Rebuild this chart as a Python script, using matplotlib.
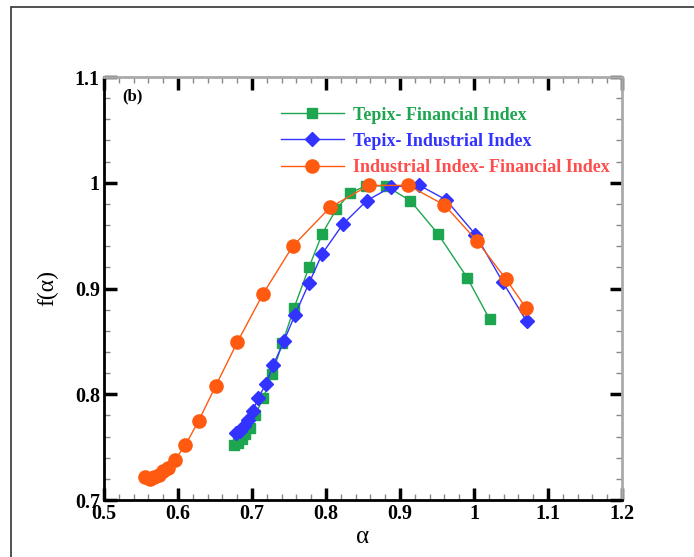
import numpy as np
import matplotlib
import matplotlib.pyplot as plt
from matplotlib.patches import Rectangle

matplotlib.use('Agg')

# Tepix - Financial Index
alpha_tf = [0.676, 0.681, 0.686, 0.691, 0.697, 0.704, 0.715, 0.727, 0.741, 0.757,
            0.777, 0.795, 0.814, 0.833, 0.854, 0.881, 0.914, 0.951, 0.991, 1.021]
f_tf = [0.752, 0.754, 0.758, 0.762, 0.768, 0.780, 0.796, 0.819, 0.848, 0.882,
        0.920, 0.952, 0.975, 0.9906, 0.997, 0.997, 0.983, 0.952, 0.910, 0.871]

# Tepix - Industrial Index
alpha_ti = [0.679, 0.684, 0.689, 0.695, 0.701, 0.708, 0.719, 0.729, 0.743, 0.758,
            0.777, 0.795, 0.823, 0.855, 0.888, 0.925, 0.962, 1.002, 1.039, 1.071]
f_ti = [0.763, 0.765, 0.770, 0.776, 0.784, 0.796, 0.810, 0.828, 0.850, 0.875,
        0.905, 0.933, 0.961, 0.983, 0.996, 0.998, 0.984, 0.951, 0.906, 0.869]

# Industrial Index - Financial Index
alpha_if = [0.556, 0.562, 0.568, 0.574, 0.580, 0.586, 0.596, 0.610, 0.628, 0.651,
            0.680, 0.715, 0.755, 0.806, 0.858, 0.911, 0.960, 1.004, 1.043, 1.070]
f_if = [0.7215, 0.720, 0.7215, 0.724, 0.727, 0.730, 0.738, 0.752, 0.775, 0.808,
        0.849, 0.895, 0.940, 0.977, 0.9975, 0.9975, 0.979, 0.945, 0.909, 0.882]

GREEN = '#1ea550'
BLUE = '#3333ff'
ORANGE = '#ff5a10'

plt.rcParams['font.family'] = ['Liberation Serif', 'DejaVu Serif']
plt.rcParams['font.weight'] = 'bold'

fig = plt.figure(figsize=(6.94, 5.57), dpi=100)
fig.patches.append(Rectangle((11 / 694, -0.1), 1.2, 1.1 - 7 / 557, transform=fig.transFigure,
                             fill=False, edgecolor='#333333', linewidth=1.2))

ax = fig.add_axes([104 / 694, 1 - 500 / 557, 518 / 694, 423 / 557])

ax.plot(alpha_tf, f_tf, '-s', color=GREEN, markersize=7.5, linewidth=1, label='Tepix- Financial Index')
ax.plot(alpha_ti, f_ti, '-D', color=BLUE, markersize=7, linewidth=1, label='Tepix- Industrial Index')
ax.plot(alpha_if, f_if, '-o', color=ORANGE, markersize=9.5, linewidth=1,
        label='Industrial Index- Financial Index')

ax.set_xlim(0.5, 1.2)
ax.set_ylim(0.7, 1.1)
ax.set_xticks(np.arange(0.5, 1.21, 0.1))
ax.set_xticklabels(['0.5', '0.6', '0.7', '0.8', '0.9', '1', '1.1', '1.2'])
ax.set_yticks([0.7, 0.8, 0.9, 1.0, 1.1])
ax.set_yticklabels(['0.7', '0.8', '0.9', '1', '1.1'])
ax.set_xticks(np.arange(0.5, 1.2, 0.02), minor=True)
ax.set_yticks(np.arange(0.7, 1.1, 0.02), minor=True)
ax.tick_params(which='major', direction='in', top=True, right=True, length=9, width=2.5,
               labelsize=14.5, pad=3)
ax.tick_params(which='minor', direction='in', top=True, right=True, length=4, width=1,
               color='#888888')

ax.spines['left'].set_linewidth(2)
ax.spines['bottom'].set_linewidth(2)
ax.spines['top'].set_color('#aaaaaa')
ax.spines['right'].set_color('#aaaaaa')
ax.spines['top'].set_linewidth(2)
ax.spines['right'].set_linewidth(2)

ax.set_xlabel('α', fontsize=18, labelpad=1)
ax.set_ylabel('f(α)', fontsize=17, labelpad=12)

ax.text(0.035, 0.955, '(b)', transform=ax.transAxes, fontsize=12, va='center', ha='left')

leg = ax.legend(loc='upper left', bbox_to_anchor=(0.31, 0.968), frameon=False, fontsize=13,
                handlelength=3.5, handletextpad=0.5, labelspacing=0.5)
for text, c in zip(leg.get_texts(), [GREEN, BLUE, '#ff4d4d']):
    text.set_color(c)

fig.savefig('out.png', dpi=100)
